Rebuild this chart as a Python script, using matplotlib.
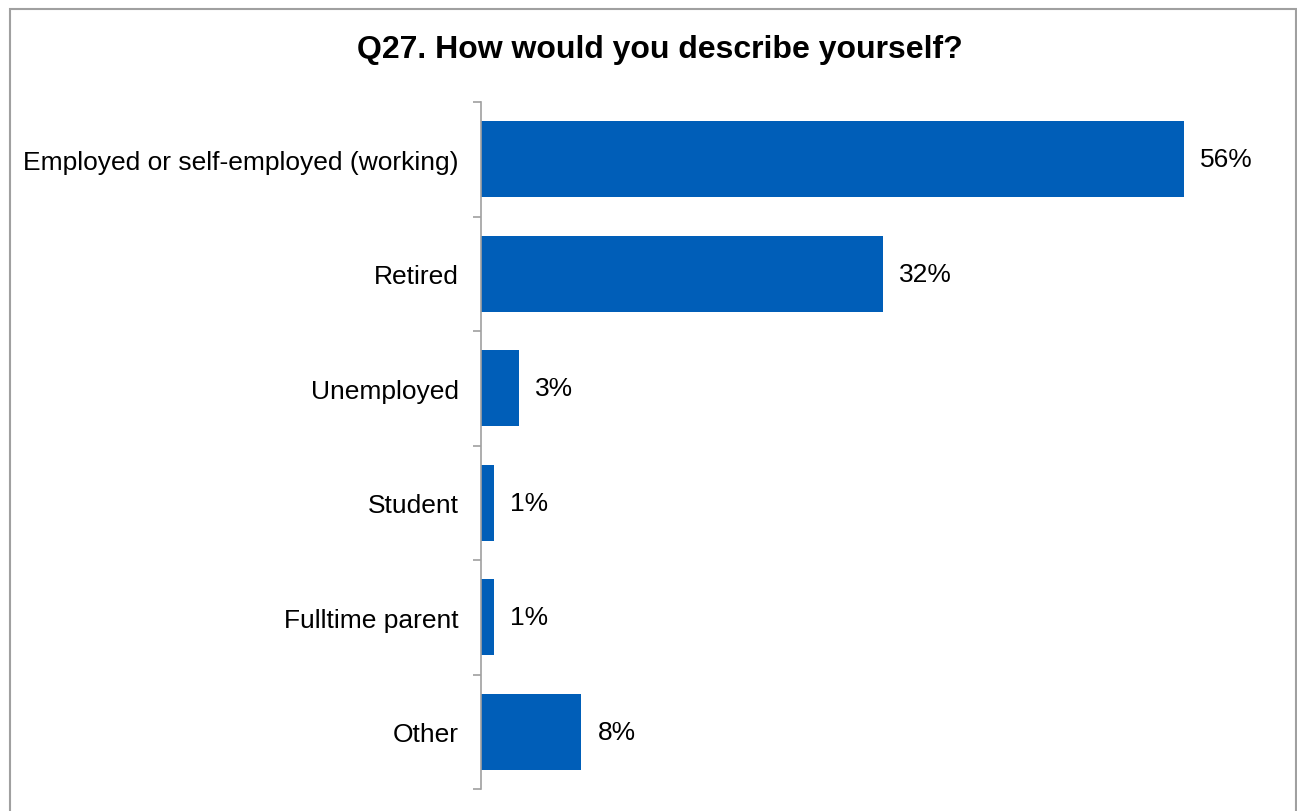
import matplotlib.pyplot as plt
from matplotlib.patches import Rectangle

categories = [
    "Employed or self-employed (working)",
    "Retired",
    "Unemployed",
    "Student",
    "Fulltime parent",
    "Other",
]
shares = [0.56, 0.32, 0.03, 0.01, 0.01, 0.08]
share_labels = ["56%", "32%", "3%", "1%", "1%", "8%"]

BAR_COLOR = "#005EB8"
W, H = 1297, 812

plt.rcParams["font.family"] = ["Liberation Sans", "DejaVu Sans"]

fig = plt.figure(figsize=(W / 100, H / 100), dpi=100)

# outer frame of the chart area
fig.patches.append(Rectangle((10 / W, -0.05), 1 - 11 / W, 1.05 - 9.5 / H,
                             transform=fig.transFigure, fill=False,
                             edgecolor="#A0A0A0", linewidth=1.5))

fig.text(660 / W, 1 - 50 / H, "Q27. How would you describe yourself?",
         ha="center", va="center", fontsize=23, fontweight="bold")

ax = fig.add_axes([481 / W, 1 - 790 / H, 753 / W, (790 - 103) / H])

y = list(range(len(categories)))
ax.barh(y, shares, height=0.665, color=BAR_COLOR)

for yi, v, lab in zip(y, shares, share_labels):
    ax.text(v + 0.013, yi, lab, va="center", ha="left", fontsize=19)

ax.set_ylim(len(categories) - 0.5, -0.5)
ax.set_xlim(0, 0.6)
ax.set_yticks(y)
ax.set_yticklabels(categories, fontsize=19)
ax.tick_params(axis="y", length=0, pad=16)
ax.set_yticks([i - 0.5 for i in range(len(categories) + 1)], minor=True)
ax.tick_params(axis="y", which="minor", length=6, color="#A0A0A0", width=1.2)
ax.set_xticks([])

for side in ["top", "right", "bottom"]:
    ax.spines[side].set_visible(False)
ax.spines["left"].set_color("#A0A0A0")
ax.spines["left"].set_linewidth(1.2)

fig.savefig("out.png", dpi=100)
